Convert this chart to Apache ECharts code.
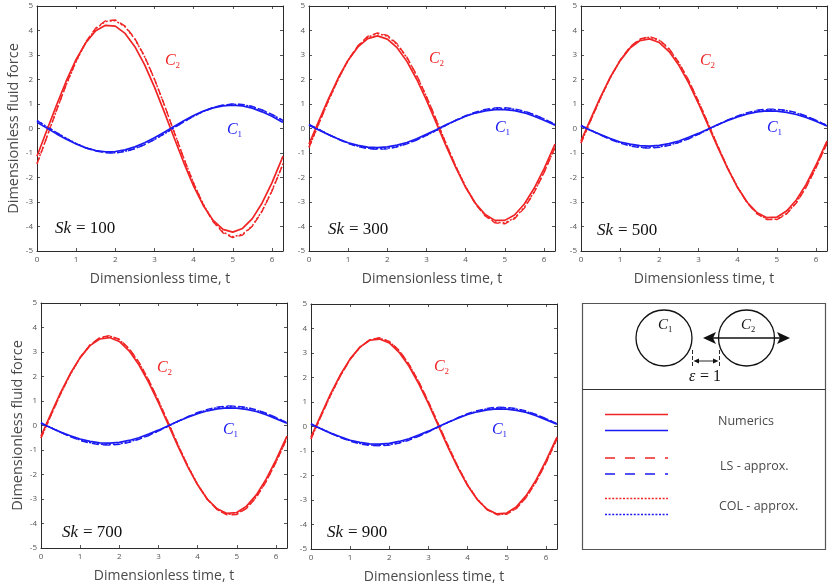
<!DOCTYPE html>
<html><head><meta charset="utf-8">
<script src="https://cdn.jsdelivr.net/npm/echarts/dist/echarts.min.js"></script>
<style>html,body{margin:0;padding:0;background:#fff}#c{width:831px;height:586px}</style>
</head><body><div id="c"></div>
<script>
// Dimensionless time samples
const T = [0, 0.25, 0.5, 0.75, 1, 1.25, 1.5, 1.75, 2, 2.25, 2.5, 2.75, 3, 3.25, 3.5, 3.75, 4, 4.25, 4.5, 4.75, 5, 5.25, 5.5, 5.75, 6, 6.25, 6.2832];
const skValues = ['100', '300', '500', '700', '900'];

// Sk = 100
const sk100_C2_num = [-1.13, -0.08, 0.96, 1.95, 2.82, 3.51, 3.99, 4.21, 4.18, 3.88, 3.34, 2.60, 1.69, 0.68, -0.37, -1.40, -2.35, -3.15, -3.75, -4.12, -4.23, -4.08, -3.68, -3.04, -2.22, -1.26, -1.13];
const sk100_C2_ls  = [-1.44, -0.36, 0.75, 1.81, 2.76, 3.54, 4.10, 4.40, 4.43, 4.18, 3.67, 2.94, 2.02, 0.98, -0.13, -1.22, -2.24, -3.12, -3.81, -4.26, -4.45, -4.35, -3.99, -3.38, -2.56, -1.58, -1.44];
const sk100_C2_col = [-1.43, -0.35, 0.75, 1.80, 2.74, 3.52, 4.07, 4.37, 4.40, 4.15, 3.65, 2.92, 2.01, 0.97, -0.13, -1.21, -2.23, -3.10, -3.79, -4.23, -4.42, -4.32, -3.97, -3.36, -2.54, -1.57, -1.43];
const sk100_C1_num = [0.25, 0.02, -0.22, -0.44, -0.63, -0.79, -0.90, -0.95, -0.94, -0.87, -0.75, -0.58, -0.38, -0.15, 0.08, 0.32, 0.53, 0.71, 0.84, 0.92, 0.95, 0.92, 0.83, 0.68, 0.50, 0.28, 0.25];
const sk100_C1_ls  = [0.32, 0.08, -0.17, -0.41, -0.62, -0.80, -0.92, -0.99, -1.00, -0.94, -0.83, -0.66, -0.45, -0.22, 0.03, 0.27, 0.50, 0.70, 0.86, 0.96, 1.00, 0.98, 0.90, 0.76, 0.58, 0.36, 0.32];
const sk100_C1_col = [0.32, 0.08, -0.17, -0.40, -0.61, -0.79, -0.91, -0.98, -0.99, -0.93, -0.82, -0.65, -0.45, -0.22, 0.03, 0.27, 0.50, 0.70, 0.85, 0.95, 0.99, 0.97, 0.89, 0.75, 0.57, 0.35, 0.32];
// Sk = 300
const sk300_C2_num = [-0.64, 0.30, 1.22, 2.07, 2.79, 3.33, 3.67, 3.78, 3.65, 3.30, 2.74, 2.01, 1.16, 0.23, -0.71, -1.60, -2.40, -3.05, -3.51, -3.75, -3.75, -3.53, -3.08, -2.44, -1.66, -0.76, -0.64];
const sk300_C2_ls  = [-0.77, 0.20, 1.15, 2.04, 2.80, 3.38, 3.76, 3.90, 3.80, 3.46, 2.91, 2.18, 1.31, 0.36, -0.62, -1.55, -2.39, -3.08, -3.57, -3.85, -3.89, -3.68, -3.25, -2.61, -1.81, -0.90, -0.77];
const sk300_C2_col = [-0.77, 0.19, 1.14, 2.02, 2.78, 3.36, 3.73, 3.87, 3.77, 3.43, 2.89, 2.16, 1.30, 0.35, -0.61, -1.54, -2.37, -3.05, -3.55, -3.82, -3.86, -3.65, -3.22, -2.59, -1.80, -0.89, -0.77];
const sk300_C1_num = [0.13, -0.06, -0.25, -0.43, -0.58, -0.69, -0.76, -0.78, -0.75, -0.68, -0.57, -0.42, -0.24, -0.05, 0.15, 0.33, 0.50, 0.63, 0.72, 0.77, 0.77, 0.73, 0.64, 0.50, 0.34, 0.16, 0.13];
const sk300_C1_ls  = [0.17, -0.04, -0.25, -0.44, -0.61, -0.74, -0.82, -0.85, -0.83, -0.75, -0.63, -0.47, -0.28, -0.08, 0.13, 0.34, 0.52, 0.67, 0.78, 0.84, 0.85, 0.80, 0.71, 0.57, 0.39, 0.20, 0.17];
const sk300_C1_col = [0.16, -0.04, -0.25, -0.43, -0.60, -0.72, -0.80, -0.83, -0.81, -0.74, -0.62, -0.46, -0.28, -0.08, 0.13, 0.33, 0.51, 0.65, 0.76, 0.82, 0.83, 0.78, 0.69, 0.56, 0.39, 0.19, 0.16];
// Sk = 500
const sk500_C2_num = [-0.51, 0.40, 1.29, 2.10, 2.77, 3.28, 3.58, 3.66, 3.51, 3.14, 2.58, 1.86, 1.02, 0.12, -0.79, -1.65, -2.41, -3.02, -3.44, -3.64, -3.62, -3.37, -2.92, -2.28, -1.50, -0.63, -0.51];
const sk500_C2_ls  = [-0.60, 0.34, 1.25, 2.09, 2.79, 3.33, 3.65, 3.75, 3.62, 3.26, 2.69, 1.97, 1.11, 0.19, -0.74, -1.63, -2.41, -3.05, -3.49, -3.72, -3.72, -3.49, -3.04, -2.40, -1.61, -0.72, -0.60];
const sk500_C2_col = [-0.59, 0.34, 1.24, 2.08, 2.78, 3.31, 3.63, 3.73, 3.60, 3.24, 2.68, 1.95, 1.11, 0.19, -0.74, -1.62, -2.40, -3.03, -3.47, -3.70, -3.70, -3.47, -3.02, -2.38, -1.60, -0.72, -0.59];
const sk500_C1_num = [0.10, -0.08, -0.25, -0.41, -0.55, -0.64, -0.70, -0.72, -0.69, -0.62, -0.51, -0.36, -0.20, -0.02, 0.16, 0.33, 0.47, 0.59, 0.68, 0.72, 0.71, 0.66, 0.57, 0.45, 0.30, 0.12, 0.10];
const sk500_C1_ls  = [0.13, -0.07, -0.27, -0.45, -0.60, -0.71, -0.78, -0.80, -0.77, -0.69, -0.57, -0.42, -0.24, -0.04, 0.16, 0.35, 0.51, 0.65, 0.75, 0.79, 0.79, 0.74, 0.65, 0.51, 0.34, 0.15, 0.13];
const sk500_C1_col = [0.12, -0.07, -0.26, -0.43, -0.58, -0.69, -0.76, -0.78, -0.75, -0.68, -0.56, -0.41, -0.23, -0.04, 0.15, 0.34, 0.50, 0.63, 0.73, 0.77, 0.77, 0.73, 0.63, 0.50, 0.33, 0.15, 0.12];
// Sk = 700
const sk700_C2_num = [-0.43, 0.47, 1.34, 2.12, 2.77, 3.26, 3.53, 3.59, 3.43, 3.05, 2.48, 1.76, 0.93, 0.04, -0.85, -1.69, -2.42, -3.01, -3.40, -3.59, -3.55, -3.29, -2.83, -2.19, -1.41, -0.55, -0.43];
const sk700_C2_ls  = [-0.51, 0.40, 1.29, 2.10, 2.78, 3.29, 3.59, 3.67, 3.52, 3.15, 2.59, 1.86, 1.02, 0.12, -0.80, -1.66, -2.42, -3.02, -3.44, -3.65, -3.63, -3.38, -2.93, -2.29, -1.51, -0.63, -0.51];
const sk700_C2_col = [-0.51, 0.40, 1.29, 2.09, 2.77, 3.27, 3.57, 3.65, 3.50, 3.13, 2.57, 1.85, 1.01, 0.12, -0.79, -1.65, -2.40, -3.01, -3.43, -3.63, -3.61, -3.37, -2.91, -2.28, -1.50, -0.63, -0.51];
const sk700_C1_num = [0.09, -0.09, -0.27, -0.42, -0.55, -0.65, -0.71, -0.72, -0.69, -0.61, -0.50, -0.35, -0.19, -0.01, 0.17, 0.34, 0.48, 0.60, 0.68, 0.72, 0.71, 0.66, 0.57, 0.44, 0.28, 0.11, 0.09];
const sk700_C1_ls  = [0.11, -0.09, -0.28, -0.46, -0.61, -0.72, -0.78, -0.80, -0.77, -0.69, -0.56, -0.41, -0.22, -0.03, 0.17, 0.36, 0.53, 0.66, 0.75, 0.80, 0.79, 0.74, 0.64, 0.50, 0.33, 0.14, 0.11];
const sk700_C1_col = [0.11, -0.09, -0.27, -0.45, -0.59, -0.70, -0.76, -0.78, -0.75, -0.67, -0.55, -0.40, -0.22, -0.02, 0.17, 0.35, 0.51, 0.64, 0.73, 0.78, 0.77, 0.72, 0.62, 0.49, 0.32, 0.13, 0.11];
// Sk = 900
const sk900_C2_num = [-0.43, 0.46, 1.33, 2.11, 2.76, 3.24, 3.52, 3.57, 3.41, 3.03, 2.47, 1.75, 0.93, 0.04, -0.85, -1.68, -2.41, -2.99, -3.38, -3.57, -3.53, -3.27, -2.81, -2.18, -1.40, -0.55, -0.43];
const sk900_C2_ls  = [-0.51, 0.40, 1.28, 2.07, 2.74, 3.24, 3.54, 3.62, 3.47, 3.11, 2.55, 1.84, 1.01, 0.11, -0.78, -1.63, -2.38, -2.98, -3.40, -3.60, -3.58, -3.34, -2.89, -2.26, -1.49, -0.62, -0.51];
const sk900_C2_col = [-0.50, 0.40, 1.27, 2.07, 2.74, 3.23, 3.53, 3.61, 3.46, 3.10, 2.54, 1.83, 1.00, 0.11, -0.78, -1.63, -2.38, -2.97, -3.39, -3.59, -3.57, -3.33, -2.88, -2.25, -1.48, -0.62, -0.50];
const sk900_C1_num = [0.09, -0.09, -0.27, -0.42, -0.56, -0.65, -0.71, -0.72, -0.69, -0.61, -0.50, -0.35, -0.19, -0.01, 0.17, 0.34, 0.49, 0.60, 0.68, 0.72, 0.71, 0.66, 0.57, 0.44, 0.28, 0.11, 0.09];
const sk900_C1_ls  = [0.11, -0.09, -0.28, -0.45, -0.60, -0.71, -0.77, -0.79, -0.76, -0.68, -0.56, -0.40, -0.22, -0.02, 0.17, 0.36, 0.52, 0.65, 0.74, 0.79, 0.78, 0.73, 0.63, 0.49, 0.32, 0.14, 0.11];
const sk900_C1_col = [0.11, -0.08, -0.27, -0.44, -0.58, -0.69, -0.75, -0.77, -0.74, -0.66, -0.54, -0.39, -0.21, -0.02, 0.17, 0.35, 0.51, 0.63, 0.72, 0.77, 0.76, 0.71, 0.61, 0.48, 0.32, 0.13, 0.11];

const panels = [
  {sk: skValues[0], c2: [sk100_C2_num, sk100_C2_ls, sk100_C2_col], c1: [sk100_C1_num, sk100_C1_ls, sk100_C1_col]},
  {sk: skValues[1], c2: [sk300_C2_num, sk300_C2_ls, sk300_C2_col], c1: [sk300_C1_num, sk300_C1_ls, sk300_C1_col]},
  {sk: skValues[2], c2: [sk500_C2_num, sk500_C2_ls, sk500_C2_col], c1: [sk500_C1_num, sk500_C1_ls, sk500_C1_col]},
  {sk: skValues[3], c2: [sk700_C2_num, sk700_C2_ls, sk700_C2_col], c1: [sk700_C1_num, sk700_C1_ls, sk700_C1_col]},
  {sk: skValues[4], c2: [sk900_C2_num, sk900_C2_ls, sk900_C2_col], c1: [sk900_C1_num, sk900_C1_ls, sk900_C1_col]}
];

// ---------- layout / style ----------
const RED = '#f02424', BLUE = '#1a1af2';
const SANS = "'Open Sans', 'Noto Sans', sans-serif";
const SERIF = "'Liberation Serif', 'DejaVu Serif', serif";
const AXC = '#2b2b2b', LBLC = '#555';
const grids = [
  {left: 37, top: 6, width: 246, height: 245},
  {left: 309, top: 6, width: 246, height: 245},
  {left: 581, top: 6, width: 246, height: 245},
  {left: 41, top: 303, width: 246, height: 245},
  {left: 311, top: 304, width: 246, height: 245}
];
const showYName = [true, false, false, true, false];
const labelPos = [ // C2 label, C1 label, Sk label (pixels)
  {c2: [165, 61], c1: [227, 130], sk: [55, 229]},
  {c2: [429, 59], c1: [495, 128], sk: [328, 230]},
  {c2: [700, 61], c1: [767, 128], sk: [597, 231]},
  {c2: [157, 368], c1: [223, 430], sk: [62, 533]},
  {c2: [434, 367], c1: [492, 430], sk: [327, 533]}
];

const xAxes = [], yAxes = [], series = [], graphics = [];
const tickCommon = {show: true, inside: true, length: 3, lineStyle: {color: AXC, width: 0.8}};
grids.forEach((g, i) => {
  const base = {type: 'value', gridIndex: i, min: 0, max: 6.2832, interval: 1, splitLine: {show: false},
    axisLine: {show: true, onZero: false, lineStyle: {color: AXC, width: 1}}, axisTick: tickCommon};
  xAxes.push(Object.assign({}, base, {position: 'bottom',
    axisLabel: {show: true, fontSize: 8, color: LBLC, fontFamily: SANS, margin: 5,
      formatter: v => (Math.abs(v - Math.round(v)) < 1e-6 ? String(Math.round(v)) : '')},
    name: 'Dimensionless time, t', nameLocation: 'middle', nameGap: 21,
    nameTextStyle: {fontSize: 14, color: '#4a4a4a', fontFamily: SANS}}));
  xAxes.push(Object.assign({}, base, {position: 'top', axisLabel: {show: false}}));
  const ybase = {type: 'value', gridIndex: i, min: -5, max: 5, interval: 1, splitLine: {show: false},
    axisLine: {show: true, onZero: false, lineStyle: {color: AXC, width: 1}}, axisTick: tickCommon};
  yAxes.push(Object.assign({}, ybase, {position: 'left',
    axisLabel: {show: true, fontSize: 8, color: LBLC, fontFamily: SANS, margin: 4},
    name: showYName[i] ? 'Dimensionless fluid force' : '', nameLocation: 'middle', nameGap: 16,
    nameTextStyle: {fontSize: 14.5, color: '#4a4a4a', fontFamily: SANS}}));
  yAxes.push(Object.assign({}, ybase, {position: 'right', axisLabel: {show: false}}));

  const p = panels[i];
  const styles = [
    {type: 'solid', w: 1.7}, {type: [7, 4], w: 1.4}, {type: [2, 2], w: 1.5}
  ];
  // approximations first, numerics on top
  [2, 1, 0].forEach(k => {
    [[p.c2[k], RED], [p.c1[k], BLUE]].forEach(([arr, col]) => {
      series.push({type: 'line', xAxisIndex: 2 * i, yAxisIndex: 2 * i, smooth: false, symbol: 'none',
        silent: true, data: T.map((t, j) => [t, arr[j]]),
        lineStyle: {color: col, width: styles[k].w, type: styles[k].type}});
    });
  });

  const lp = labelPos[i];
  const cLabel = (pos, sub, col) => {
    graphics.push({type: 'text', x: pos[0], y: pos[1], silent: true,
      style: {text: 'C', font: 'italic 16px ' + SERIF, fill: col, textVerticalAlign: 'middle'}});
    graphics.push({type: 'text', x: pos[0] + 10.5, y: pos[1] + 5, silent: true,
      style: {text: sub, font: '9px ' + SERIF, fill: col, textVerticalAlign: 'middle'}});
  };
  cLabel(lp.c2, '2', RED);
  cLabel(lp.c1, '1', BLUE);
  graphics.push({type: 'text', x: lp.sk[0], y: lp.sk[1], silent: true,
    style: {text: 'Sk', font: 'italic 17px ' + SERIF, fill: '#111', textVerticalAlign: 'middle'}});
  graphics.push({type: 'text', x: lp.sk[0] + 21, y: lp.sk[1], silent: true,
    style: {text: '= ' + p.sk, font: '17px ' + SERIF, fill: '#111', textVerticalAlign: 'middle'}});
});

// ---------- legend / sketch box ----------
const K = '#111';
graphics.push({type: 'rect', shape: {x: 582.5, y: 303.5, width: 243, height: 246}, silent: true,
  style: {fill: 'none', stroke: '#555', lineWidth: 1.2}});
graphics.push({type: 'line', shape: {x1: 582.5, y1: 389.5, x2: 825.5, y2: 389.5}, silent: true,
  style: {stroke: '#333', lineWidth: 1.2}});
graphics.push({type: 'circle', shape: {cx: 664, cy: 338, r: 28}, silent: true, style: {fill: 'none', stroke: K, lineWidth: 1.3}});
graphics.push({type: 'circle', shape: {cx: 746.5, cy: 338, r: 28}, silent: true, style: {fill: 'none', stroke: K, lineWidth: 1.3}});
[[658, '1'], [741, '2']].forEach(([x, s]) => {
  graphics.push({type: 'text', x: x, y: 325, silent: true, style: {text: 'C', font: 'italic 15px ' + SERIF, fill: K, textVerticalAlign: 'middle'}});
  graphics.push({type: 'text', x: x + 10, y: 330, silent: true, style: {text: s, font: '8.5px ' + SERIF, fill: K, textVerticalAlign: 'middle'}});
});
graphics.push({type: 'line', shape: {x1: 710, y1: 338, x2: 783, y2: 338}, silent: true, style: {stroke: K, lineWidth: 1.6}});
graphics.push({type: 'polygon', shape: {points: [[703, 338], [716, 332], [713, 338], [716, 344]]}, silent: true, style: {fill: K}});
graphics.push({type: 'polygon', shape: {points: [[790, 338], [777, 332], [780, 338], [777, 344]]}, silent: true, style: {fill: K}});
[692.5, 719.5].forEach(x => graphics.push({type: 'line', shape: {x1: x, y1: 350, x2: x, y2: 368}, silent: true,
  style: {stroke: K, lineWidth: 0.9, lineDash: [4, 2]}}));
graphics.push({type: 'line', shape: {x1: 697, y1: 361, x2: 715, y2: 361}, silent: true, style: {stroke: K, lineWidth: 0.9}});
graphics.push({type: 'polygon', shape: {points: [[693.5, 361], [699, 358.6], [699, 363.4]]}, silent: true, style: {fill: K}});
graphics.push({type: 'polygon', shape: {points: [[718.5, 361], [713, 358.6], [713, 363.4]]}, silent: true, style: {fill: K}});
graphics.push({type: 'text', x: 689, y: 377, silent: true, style: {text: 'ε', font: 'italic 16px ' + SERIF, fill: K, textVerticalAlign: 'middle'}});
graphics.push({type: 'text', x: 700, y: 377, silent: true, style: {text: '= 1', font: '16px ' + SERIF, fill: K, textVerticalAlign: 'middle'}});

const legendRows = [
  {y: [414.5, 430.5], dash: null, text: 'Numerics', tx: 718, ty: 421},
  {y: [458, 474], dash: [10, 10], text: 'LS - approx.', tx: 720, ty: 466},
  {y: [498.5, 514.5], dash: [2, 1.6], text: 'COL - approx.', tx: 719, ty: 506}
];
legendRows.forEach(r => {
  [[r.y[0], RED], [r.y[1], BLUE]].forEach(([y, c]) => {
    graphics.push({type: 'line', shape: {x1: 605, y1: y, x2: 668, y2: y}, silent: true,
      style: {stroke: c, lineWidth: 1.4, lineDash: r.dash || null}});
  });
  graphics.push({type: 'text', x: r.tx, y: r.ty, silent: true,
    style: {text: r.text, font: '12.5px ' + SANS, fill: '#4a4a4a', textVerticalAlign: 'middle'}});
});

const chart = echarts.init(document.getElementById('c'), null, {renderer: 'canvas'});
chart.setOption({
  animation: false,
  backgroundColor: '#fff',
  grid: grids,
  xAxis: xAxes,
  yAxis: yAxes,
  series: series,
  graphic: graphics
});
</script>
</body></html>
